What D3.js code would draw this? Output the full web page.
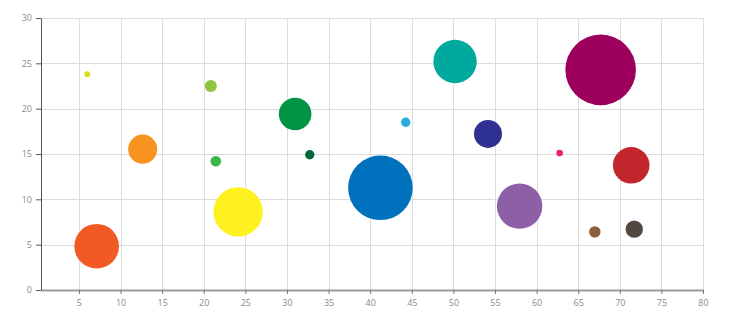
<!DOCTYPE html>
<html>
  <head>
    <meta charset="utf-8">
    <style>
      body { margin: 0; padding: 0; background: #fff; font-family: 'Open Sans', sans-serif; }
      .axis text { fill: #8a8a8a; font-size: 9px; font-family: 'Open Sans', sans-serif; }
    </style>
  </head>
  <body>
    <div id="chart"></div>
    <script src="https://d3js.org/d3.v7.min.js"></script>
    <script>
      var xs = [6.0, 20.85, 12.66, 21.45, 30.98, 32.74, 24.13, 7.13, 41.23, 44.27, 50.2, 54.16, 57.96, 62.77, 71.37, 67.0, 71.74, 67.7];
      var ys = [23.8, 22.5, 15.53, 14.2, 19.42, 14.92, 8.62, 4.83, 11.27, 18.5, 25.2, 17.21, 9.25, 15.1, 13.75, 6.41, 6.71, 24.28];
      var sizes = [0.7, 2.8, 16.4, 2.2, 20.5, 1.7, 47.1, 38.4, 80.5, 1.7, 36.3, 15.1, 39.8, 0.84, 25.8, 2.5, 5.8, 96.1];
      var colors = ["#d7df23", "#8dc63f", "#f7931e", "#39b54a", "#009444", "#006838", "#fff01f", "#f15a24",
                    "#0071bc", "#29abe2", "#00a99d", "#2e3192", "#8c5fa6", "#ed1e79", "#c1272d", "#8b5e3c",
                    "#534741", "#9e005d"];
      var xTicks = [5, 10, 15, 20, 25, 30, 35, 40, 45, 50, 55, 60, 65, 70, 75, 80];
      var yTicks = [0, 5, 10, 15, 20, 25, 30];

      var data = xs.map((x, i) => ({x: x, y: ys[i], s: sizes[i], c: colors[i]}));

      var margin = {top: 18, right: 27, bottom: 30, left: 41},
          width = 730 - margin.left - margin.right,
          height = 320 - margin.top - margin.bottom;

      var svg = d3.select("#chart").append("svg")
          .attr("width", 730)
          .attr("height", 320),
          g = svg.append("g")
          .attr("transform", "translate(" + margin.left + "," + margin.top + ")");

      var x = d3.scaleLinear().domain([0.44, 80]).range([0, width]),
          y = d3.scaleLinear().domain([0, 30]).range([height, 0]),
          r = d3.scaleSqrt().domain([0, 100]).range([0, 36]);

      // grid
      g.append("g")
        .selectAll("line")
        .data(xTicks)
        .enter().append("line")
          .attr("x1", d => Math.round(x(d)) + 0.5)
          .attr("x2", d => Math.round(x(d)) + 0.5)
          .attr("y1", 0)
          .attr("y2", height)
          .attr("stroke", "#dcdcdc");

      g.append("g")
        .selectAll("line")
        .data(yTicks.slice(1))
        .enter().append("line")
          .attr("x1", 0)
          .attr("x2", width)
          .attr("y1", d => Math.round(y(d)) + 0.5)
          .attr("y2", d => Math.round(y(d)) + 0.5)
          .attr("stroke", "#dcdcdc");

      // bubbles
      g.append("g")
        .selectAll("circle")
        .data(data)
        .enter().append("circle")
          .attr("cx", d => x(d.x))
          .attr("cy", d => y(d.y))
          .attr("r", d => r(d.s))
          .attr("fill", d => d.c);

      // axes
      var xAxis = g.append("g")
        .attr("class", "axis")
        .attr("transform", "translate(0," + height + ")")
        .call(d3.axisBottom(x).tickValues(xTicks).tickSize(4).tickSizeOuter(0).tickPadding(6));
      xAxis.select(".domain").attr("stroke", "#9a9a9a").attr("stroke-width", 2);
      xAxis.selectAll(".tick line").attr("stroke", "#777");

      var yAxis = g.append("g")
        .attr("class", "axis")
        .call(d3.axisLeft(y).tickValues(yTicks).tickSize(5).tickSizeOuter(0).tickPadding(4));
      yAxis.select(".domain").attr("stroke", "#555");
      yAxis.selectAll(".tick line").attr("stroke", "#555");
    </script>
  </body>
</html>
